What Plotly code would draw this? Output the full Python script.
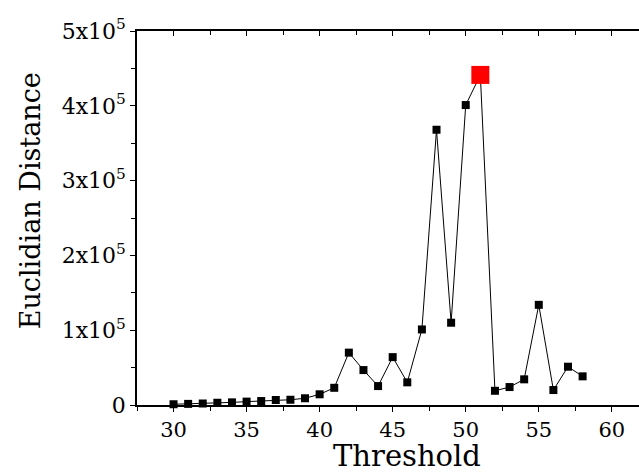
import plotly.graph_objects as go

thresholds = list(range(30, 59))
distances = [1000, 1500, 2000, 3000, 3500, 4500, 5300, 6700, 7000, 9000,
             14300, 23000, 70000, 46700, 25300, 64000, 30300, 101000, 368000, 110000,
             401000, 441300, 19000, 24000, 34300, 133900, 20000, 51200, 38300]
peak_x = [51]
peak_y = [441300]

y_tickvals = [0, 100000, 200000, 300000, 400000, 500000]
y_ticktext = ["0", "1x10<sup>5</sup>", "2x10<sup>5</sup>", "3x10<sup>5</sup>",
              "4x10<sup>5</sup>", "5x10<sup>5</sup>"]
x_tickvals = [30, 35, 40, 45, 50, 55, 60]
x_title = "Threshold"
y_title = "Euclidian Distance"

FONT = "DejaVu Serif"

fig = go.Figure()
fig.add_trace(go.Scatter(
    x=thresholds, y=distances, mode="lines+markers",
    line=dict(color="black", width=1),
    marker=dict(symbol="square", size=8, color="black"),
    cliponaxis=False, showlegend=False))
fig.add_trace(go.Scatter(
    x=peak_x, y=peak_y, mode="markers",
    marker=dict(symbol="square", size=18, color="#ff0000"),
    cliponaxis=False, showlegend=False))
fig.add_trace(go.Scatter(x=[], y=[], xaxis="x2", showlegend=False))

fig.update_layout(
    width=639, height=472,
    margin=dict(l=137, r=0, t=31, b=67),
    plot_bgcolor="white", paper_bgcolor="white",
    font=dict(family=FONT, color="black", size=17),
    xaxis=dict(
        range=[27.5, 61.86], tickvals=x_tickvals,
        ticks="outside", ticklen=5, tickwidth=1, tickcolor="black",
        minor=dict(dtick=2.5, tick0=27.5, ticks="outside", ticklen=4, tickcolor="black"),
        showline=True, linecolor="black", linewidth=1.5,
        showgrid=False, zeroline=False,
        tickfont=dict(size=21, family=FONT),
    ),
    xaxis2=dict(
        overlaying="x", side="top", matches="x", range=[27.5, 61.86],
        tickvals=x_tickvals, showticklabels=False,
        ticks="inside", ticklen=5, tickwidth=1, tickcolor="black",
        minor=dict(dtick=2.5, tick0=27.5, ticks="inside", ticklen=4, tickcolor="black"),
        showline=True, linecolor="black", linewidth=1.5,
        showgrid=False, zeroline=False,
    ),
    yaxis=dict(
        range=[0, 500000], tickvals=y_tickvals, ticktext=y_ticktext,
        ticks="outside", ticklen=5, tickwidth=1, tickcolor="black",
        minor=dict(dtick=50000, tick0=0, ticks="outside", ticklen=4, tickcolor="black"),
        showline=True, linecolor="black", linewidth=1.5,
        showgrid=False, zeroline=False,
        tickfont=dict(size=22, family=FONT),
    ),
    annotations=[
        dict(text=x_title, xref="paper", yref="paper", x=0.538, y=-0.137,
             xanchor="center", yanchor="middle", showarrow=False,
             font=dict(size=29, family=FONT, color="black")),
        dict(text=y_title, xref="paper", yref="paper", x=-0.213, y=0.545,
             xanchor="center", yanchor="middle", showarrow=False, textangle=-90,
             font=dict(size=27, family=FONT, color="black")),
    ],
)

fig.write_html("out.html")
